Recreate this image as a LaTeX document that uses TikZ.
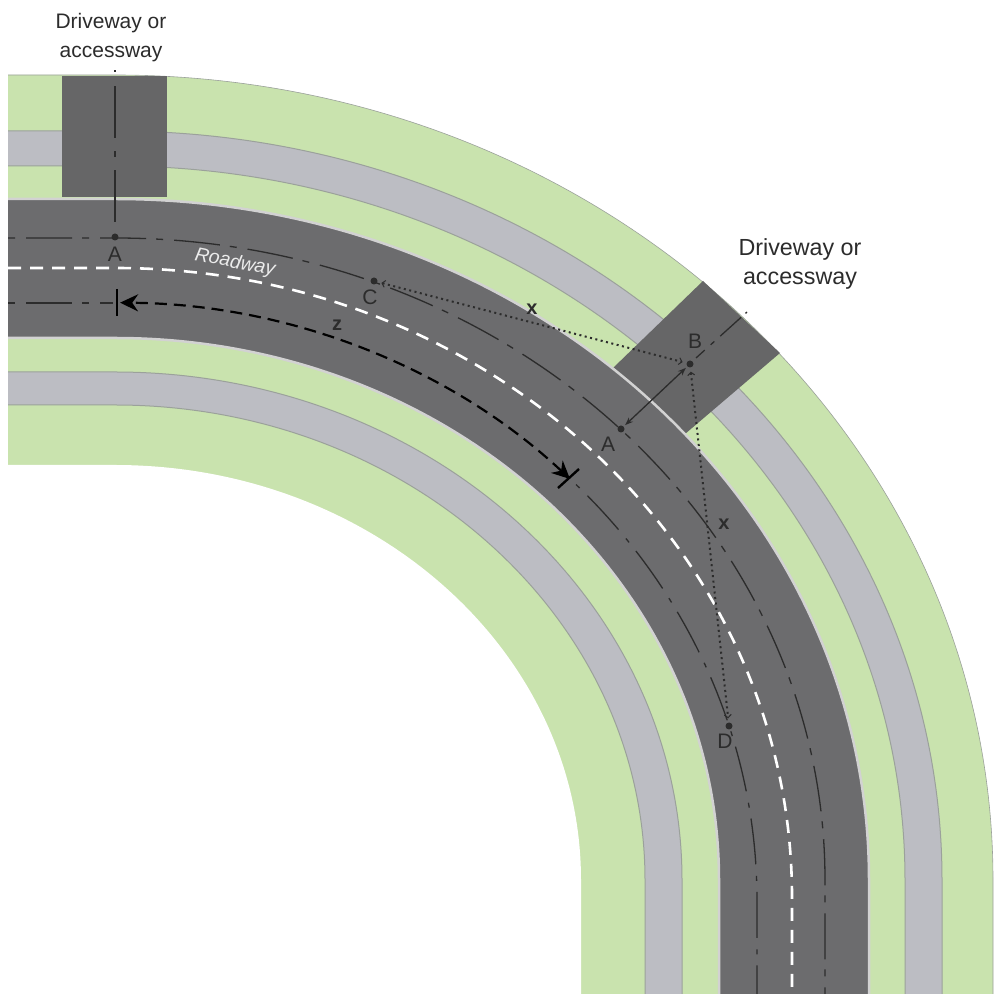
\documentclass[tikz,border=0pt]{standalone}
\usepackage{fontspec}
\setmainfont{Liberation Sans}
\usetikzlibrary{arrows.meta}
\definecolor{grass}{HTML}{C9E3AE}
\definecolor{walk}{HTML}{BCBDC3}
\definecolor{road}{HTML}{6C6C6E}
\definecolor{drive}{HTML}{666667}
\definecolor{edgeg}{HTML}{9BA19B}
\definecolor{kerb}{HTML}{D2D2D2}
\definecolor{ink}{HTML}{2C2C2C}
% boundary: top y (pixels, at left) and bottom x (pixels), ellipse centre height
\newcommand{\blinec}[3]{(8,{994-#1}) -- (115,{994-#1}) arc[start angle=90,end angle=0,x radius={#2-115},y radius={#3-#1}] -- (#2,0)}
\newcommand{\bline}[2]{\blinec{#1}{#2}{880}}
\newcommand{\band}[4]{\fill[#3] \bline{#1}{#2} -- (8,0) -- cycle; \draw[#4] \bline{#1}{#2};}
\tikzset{
  px/.style={x=1pt,y=1pt},
  center/.style={draw=ink,line width=1.3pt,dash pattern=on 46.06pt off 10pt on 7pt off 11pt,dash phase=56.06pt},
  lbl/.style={text=ink,font=\fontsize{21}{29}\selectfont,align=center,inner sep=0pt},
  lblb/.style={text=ink,font=\fontsize{23.3}{29}\selectfont,align=center,inner sep=0pt},
  pt/.style={text=ink,font=\fontsize{21}{24}\selectfont,inner sep=0pt},
  ptb/.style={text=ink,font=\fontsize{20}{24}\selectfont\bfseries,inner sep=0pt},
  spot/.style={circle,fill=ink,minimum size=7pt,inner sep=0pt},
  dots/.style={draw=ink,line width=2pt,dash pattern=on 2pt off 3.5pt,shorten <=4pt,shorten >=4pt,
     {Straight Barb[length=3pt,width=7pt,line width=1pt]}-{Straight Barb[length=3pt,width=7pt,line width=1pt]}},
  ticks/.style={draw=black,line width=2.4pt}
}
\begin{document}
\begin{tikzpicture}[px]
\useasboundingbox (0,0) rectangle (994,994);
\fill[white] (0,0) rectangle (994,994);
\band{75}{993}{grass}{draw=edgeg,line width=.6pt}
\band{131}{942}{walk}{draw=edgeg,line width=1pt}
\band{166}{905}{grass}{draw=edgeg,line width=1pt}
\fill[drive] (62,{994-76}) rectangle (167,{994-197});
\fill[drive] (703,{994-281}) -- (780,{994-353}) -- (685,{994-434}) -- (613,{994-368}) -- cycle;
\band{199}{869}{road}{draw=kerb,line width=2.5pt}
\band{338}{719}{grass}{draw=kerb,line width=2.5pt}
\band{372}{682}{walk}{draw=edgeg,line width=1pt}
\band{405}{645}{grass}{draw=edgeg,line width=1pt}
\band{465}{581}{white}{draw=none}
% centre lines
\draw[center] \bline{238}{825};
\draw[center] (8,{994-303}) -- (113,{994-303});
\draw[center,dash pattern=on 5pt off 11pt on 46pt off 11.6pt,dash phase=0pt] (576,{994-484.5}) arc[start angle=44.1,end angle=0,x radius=642,y radius=597] -- (757,0);
\draw[white,line width=2.6pt,dash pattern=on 13pt off 9pt] \blinec{268}{792}{897};
% points
\node[spot] (A1) at (115,{994-237}) {};
\node[spot] (B) at (690,{994-364}) {};
\node[spot] (A2) at (621,{994-429}) {};
\node[spot] (C) at (374,{994-281}) {};
\node[spot] (D) at (729,{994-726}) {};
\coordinate (T1) at (115,{994-70});
\coordinate (T1b) at (115,{994-222});
\coordinate (T2) at (747,{994-312});
\coordinate (T2b) at (696,{994-358});
\draw[draw=ink,line width=1.3pt,dash pattern=on 52pt off 13pt on 6pt off 13pt on 52pt off 14pt on 2pt off 10pt] (T1b) -- (T1);
\draw[draw=ink,line width=1.3pt,dash pattern=on 2pt off 6pt on 28pt off 8pt on 5pt off 8pt on 12pt off 10pt] (T2) -- (T2b);
% dimension
\draw[draw=ink,line width=1.3pt,shorten <=2pt,shorten >=2pt,{Stealth[length=8pt,width=6pt]}-{Stealth[length=8pt,width=6pt]}] (A2) -- (B);
\draw[dots] (C) -- (B);
\draw[dots] (B) -- (D);
% z
\coordinate (Z1) at (570,{994-479});
\draw[black,line width=2.2pt,dash pattern=on 12pt off 7pt,{Stealth[length=18pt,width=17pt]}-{Stealth[length=18pt,width=17pt]}] (Z1) arc[start angle=44.8,end angle=89.5,x radius=642,y radius=597];
\draw[ticks] (117,{994-289}) -- (117,{994-316});
\draw[ticks] (558,{994-488}) -- (579,{994-469});
% labels
\node[lbl] (L1) at (111,{994-38}) {Driveway or\\accessway};
\node[lblb] (L2) at (800,{994-264}) {Driveway or\\accessway};
\node[pt] (LA1) at (115,{994-254}) {A};
\node[pt] (LA2) at (608,{994-444}) {A};
\node[pt] (LB) at (695,{994-341}) {B};
\node[pt] (LC) at (370,{994-297}) {C};
\node[pt] (LD) at (725,{994-741}) {D};
\node[ptb] (X1) at (532,{994-309}) {x};
\node[ptb] (X2) at (724,{994-524}) {x};
\node[ptb] (Z) at (337,{994-325}) {z};
\node[text=white!92!black,font=\fontsize{19.5}{22}\selectfont\itshape,inner sep=0pt,rotate=-11] (R) at (235,{994-263}) {Roadway};
\end{tikzpicture}
\end{document}
